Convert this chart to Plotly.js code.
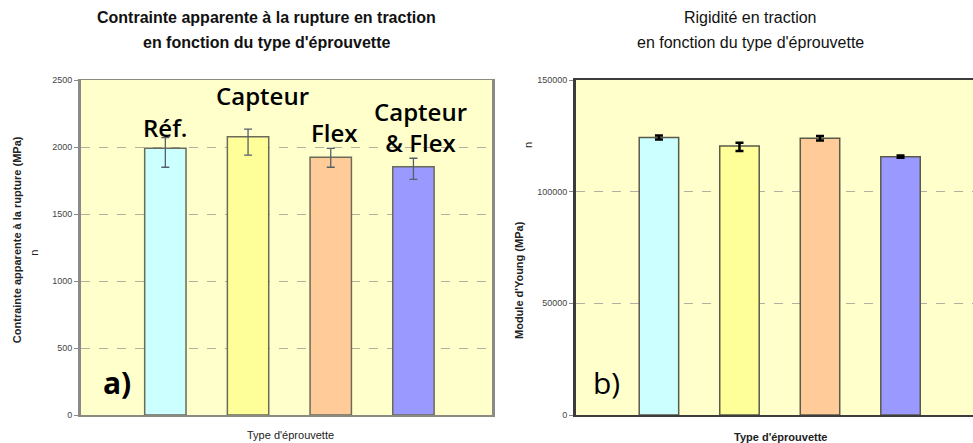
<!DOCTYPE html>
<html>
<head>
<meta charset="utf-8">
<script src="https://cdn.plot.ly/plotly-3.0.1.min.js"></script>
<style>
  body { margin: 0; background: #fff; }
  #plot { width: 973px; height: 443px; }
</style>
</head>
<body>
<div id="plot"></div>
<script>
// specimen types (x positions 0..3)
const types = [0, 1, 2, 3];
const typeNames = ['Réf.', 'Capteur', 'Flex', 'Capteur<br>&amp; Flex'];
const barColors = ['#ccffff', '#ffff99', '#ffcc99', '#9999ff'];

// a) apparent tensile stress at failure (MPa)
const stress = [1990, 2077, 1923, 1853];
const stressErrPlus = [80, 57, 67, 63];
const stressErrMinus = [141, 137, 74, 94];

// b) Young's modulus (MPa)
const modulus = [124300, 120400, 123900, 115650];
const modulusErrPlus = [900, 1500, 1000, 500];
const modulusErrMinus = [900, 2200, 1000, 500];

const stressTicks = [0, 500, 1000, 1500, 2000, 2500];
const modulusTicks = [0, 50000, 100000, 150000];

const labelFont = { family: 'Open Sans, sans-serif', size: 24, color: '#000', weight: 600 };
const axisFont = { family: 'Liberation Sans, Arial, sans-serif', size: 9, color: '#444' };
const titleFont = { family: 'Liberation Sans, Arial', size: 16, color: '#111' };
const smallFont = { family: 'Liberation Sans, Arial', size: 11, color: '#222' };

function note(x, y, text, font, extra) {
    return Object.assign({
        xref: 'paper', yref: 'paper', x: x, y: y, text: text, font: font,
        showarrow: false, xanchor: 'center', yanchor: 'middle'
    }, extra || {});
}

const traceA = {
    x: types,
    y: stress,
    type: 'bar',
    width: 0.5,
    marker: { color: barColors, line: { color: '#6b6b5a', width: 1.5 } },
    error_y: {
        type: 'data', symmetric: false,
        array: stressErrPlus, arrayminus: stressErrMinus,
        color: '#55606a', thickness: 1.3, width: 4
    },
    xaxis: 'x', yaxis: 'y',
    hoverinfo: 'skip'
};

const traceB = {
    x: types,
    y: modulus,
    type: 'bar',
    width: 0.49,
    marker: { color: barColors, line: { color: '#5a5a4a', width: 1.5 } },
    error_y: {
        type: 'data', symmetric: false,
        array: modulusErrPlus, arrayminus: modulusErrMinus,
        color: '#000', thickness: 2.5, width: 4
    },
    xaxis: 'x2', yaxis: 'y2',
    hoverinfo: 'skip'
};

const gridStyle = { showgrid: true, gridcolor: '#b0b0a0', griddash: 'dash', gridwidth: 1 };

const layout = {
    width: 973,
    height: 443,
    margin: { l: 0, r: 0, t: 80, b: 28 },
    paper_bgcolor: '#ffffff',
    plot_bgcolor: '#ffffcc',
    showlegend: false,
    bargap: 0,
    xaxis: {
        domain: [81 / 973, 492 / 973],
        range: [-1.02, 3.95],
        showticklabels: false, ticks: '', showgrid: false, zeroline: false,
        showline: true, linecolor: '#8a8a80', linewidth: 1.5, mirror: true
    },
    yaxis: Object.assign({
        range: [0, 2500],
        tickvals: stressTicks,
        ticks: 'outside', ticklen: 4, tickcolor: '#888',
        tickfont: axisFont,
        zeroline: false,
        showline: true, linecolor: '#8a8a8a', linewidth: 3, mirror: true
    }, gridStyle),
    xaxis2: {
        domain: [576 / 973, 1],
        range: [-1.03, 3.9],
        anchor: 'y2',
        showticklabels: false, ticks: '', showgrid: false, zeroline: false,
        showline: true, linecolor: '#3c3c3c', linewidth: 2, mirror: true
    },
    yaxis2: Object.assign({
        anchor: 'x2',
        range: [0, 150000],
        tickvals: modulusTicks,
        tickformat: 'd',
        ticks: 'outside', ticklen: 4, tickcolor: '#888',
        tickfont: axisFont,
        zeroline: false,
        showline: true, linecolor: '#3c3c3c', linewidth: 3
    }, gridStyle),
    annotations: [
        // titles
        note(266 / 973, 1.188, '<b>Contrainte apparente à la rupture en traction</b>', titleFont),
        note(266 / 973, 1.113, '<b>en fonction du type d\'éprouvette</b>', titleFont),
        note(750 / 973, 1.188, 'Rigidité en traction', titleFont),
        note(750 / 973, 1.113, 'en fonction du type d\'éprouvette', titleFont),
        // axis titles
        note(17 / 973, 0.522, '<b>Contrainte apparente à la rupture (MPa)</b>', smallFont, { textangle: -90 }),
        note(34 / 973, 0.484, 'n', smallFont, { textangle: -90 }),
        note(519 / 973, 0.403, '<b>Module d\'Young (MPa)</b>', smallFont, { textangle: -90 }),
        note(528 / 973, 0.806, 'n', smallFont, { textangle: -90 }),
        note(290 / 973, -0.06, 'Type d\'éprouvette', smallFont),
        note(780 / 973, -0.066, '<b>Type d\'éprouvette</b>', smallFont),
        // bar labels (panel a)
        { xref: 'x', yref: 'y', x: 0, y: 2149, showarrow: false, text: typeNames[0], font: labelFont },
        { xref: 'x', yref: 'y', x: 1.17, y: 2381, showarrow: false, text: typeNames[1], font: labelFont },
        { xref: 'x', yref: 'y', x: 2.05, y: 2105, showarrow: false, text: typeNames[2], font: labelFont },
        { xref: 'x', yref: 'y', x: 3.08, y: 2149, showarrow: false, text: typeNames[3], font: labelFont },
        // panel letters
        { xref: 'x', yref: 'y', x: -0.59, y: 246, showarrow: false, text: '<b>a)</b>',
          font: { family: 'Open Sans, sans-serif', size: 30, color: '#000' } },
        { xref: 'x2', yref: 'y2', x: -0.65, y: 14776, showarrow: false, text: 'b)',
          font: { family: 'Open Sans, sans-serif', size: 30, color: '#000' } }
    ]
};

Plotly.newPlot('plot', [traceA, traceB], layout, { staticPlot: true });
</script>
</body>
</html>
